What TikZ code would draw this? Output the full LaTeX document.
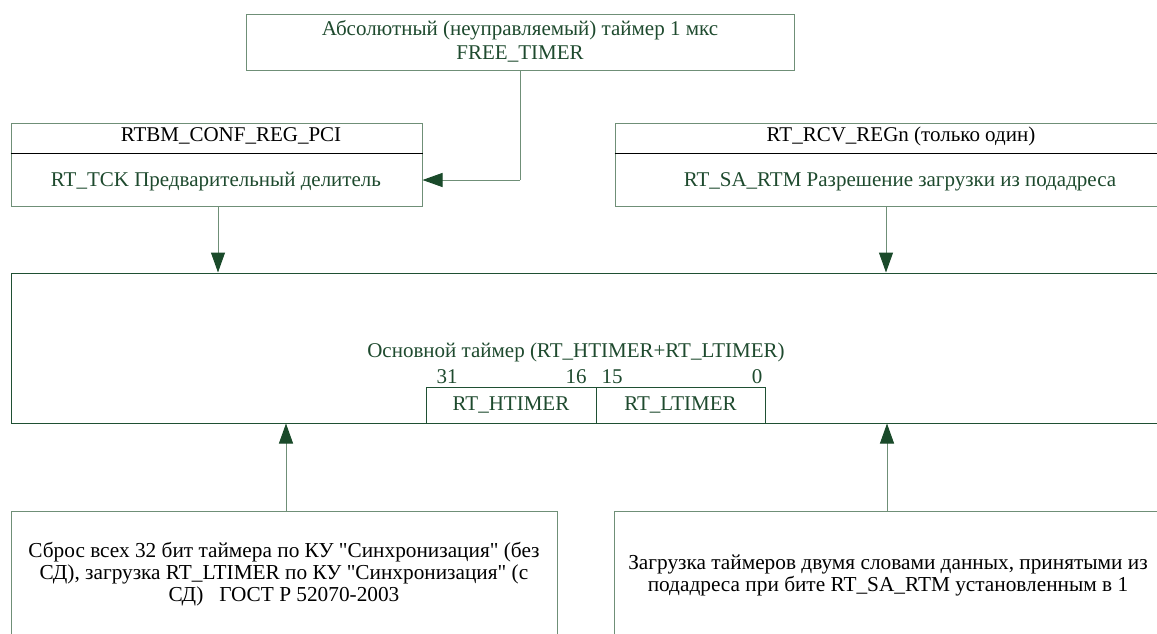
\documentclass[tikz,border=0pt]{standalone}
\usepackage{fontspec}
\setmainfont{Liberation Serif}[Ligatures=NoCommon]
\usetikzlibrary{arrows.meta}
\definecolor{tgreen}{HTML}{1E4A2E}
\definecolor{lgreen}{HTML}{6F8F77}
\definecolor{dgreen}{HTML}{1F5033}
\definecolor{ahead}{HTML}{1A4A2A}
\begin{document}
\begin{tikzpicture}[x=1pt,y=-1pt,
  lbox/.style={draw=lgreen, line width=1pt, inner sep=0pt, anchor=center},
  dbox/.style={draw=dgreen, line width=1pt, inner sep=0pt, anchor=center},
  gtxt/.style={text=tgreen, inner sep=0pt, font=\rmfamily\fontsize{21}{25}\selectfont},
  btxt/.style={text=black, inner sep=0pt, font=\rmfamily\fontsize{21}{25}\selectfont},
  mtxt/.style={text=black, inner sep=0pt, align=center, font=\rmfamily\fontsize{21.3}{22}\selectfont},
  conn/.style={draw=lgreen, line width=1pt},
  arr/.style={conn, -{Triangle[length=20pt,width=14pt,fill=ahead,color=ahead]}}
]
\useasboundingbox (0,0) rectangle (1157,633);
\clip (0,0) rectangle (1157,633);
% boxes
\node[lbox, minimum width=548pt, minimum height=56pt] (free) at (520,42) {};
\node[lbox, minimum width=411pt, minimum height=83pt] (conf) at (216.5,164.5) {};
\node[lbox, minimum width=560pt, minimum height=83pt] (rcv) at (895,164.5) {};
\node[dbox, minimum width=1170pt, minimum height=150pt] (main) at (596,348) {};
\node[dbox, minimum width=170pt, minimum height=36pt] (ht) at (511,405) {};
\node[dbox, minimum width=169pt, minimum height=36pt] (lt) at (680.5,405) {};
\node[lbox, minimum width=546pt, minimum height=160pt] (bl) at (284,591) {};
\node[lbox, minimum width=560pt, minimum height=160pt] (br) at (894,591) {};
% dividers
\draw[black, line width=0.8pt] (conf.west |- 0,153) coordinate (cd1) -- (conf.east |- cd1);
\draw[black, line width=0.8pt] (rcv.west |- 0,153) coordinate (rd1) -- (rcv.east |- rd1);
% texts
\node[gtxt] (t1) at (520,30) {Абсолютный (неуправляемый) таймер 1 мкс};
\node[gtxt] (t2) at (520,54) {FREE\_TIMER};
\node[btxt] (c1) at (231,136) {RTBM\_CONF\_REG\_PCI};
\node[gtxt] (c2) at (216,182) {RT\_TCK Предварительный делитель};
\node[btxt] (r1) at (901,136) {RT\_RCV\_REGn (только один)};
\node[gtxt] (r2) at (900,182) {RT\_SA\_RTM Разрешение загрузки из подадреса};
\node[gtxt] (m1) at (576,352) {Основной таймер (RT\_HTIMER+RT\_LTIMER)};
\node[gtxt] (n31) at (447,377) {31};
\node[gtxt] (n16) at (576,377) {16};
\node[gtxt] (n15) at (612,377) {15};
\node[gtxt] (n0) at (757,377) {0};
\node[gtxt] at (ht.center) {RT\_HTIMER};
\node[gtxt] at (lt.center) {RT\_LTIMER};
\node[mtxt] (bt1) at (284,574) {Сброс всех 32 бит таймера по КУ \textquotedbl Синхронизация\textquotedbl{} (без\\СД), загрузка RT\_LTIMER по КУ \textquotedbl Синхронизация\textquotedbl{} (с\\СД)\ \ \ ГОСТ Р 52070-2003};
\node[mtxt] (bt2) at (888,575) {Загрузка таймеров двумя словами данных, принятыми из\\подадреса при бите RT\_SA\_RTM установленным в 1};
% connectors
\coordinate (xl) at (218,0);
\coordinate (xr) at (886,0);
\coordinate (ul) at (286,0);
\coordinate (ur) at (887,0);
\draw[conn] (free.south) -- (free.south |- 0,180) coordinate (bend);
\draw[arr] (bend) -- (conf.east |- bend);
\draw[arr] (xl |- conf.south) -- (xl |- main.north);
\draw[arr] (xr |- rcv.south) -- (xr |- main.north);
\draw[arr] (ul |- bl.north) -- (ul |- main.south);
\draw[arr] (ur |- br.north) -- (ur |- main.south);
\end{tikzpicture}
\end{document}
